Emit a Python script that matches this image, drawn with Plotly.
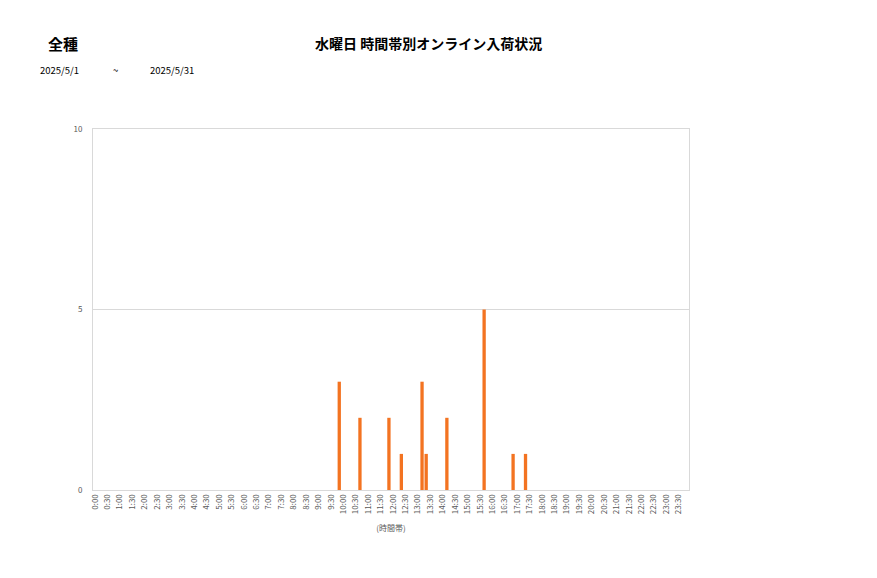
import plotly.graph_objects as go

# 10-minute slots for one day
hours = list(range(24))
minutes = [0, 10, 20, 30, 40, 50]
slots = [f"{h}:{m:02d}" for h in hours for m in minutes]

# arrivals (Wednesday, 2025/5/1 - 2025/5/31)
arrival_times = ["9:50", "10:40", "11:50", "12:20", "13:10", "13:20", "14:10", "15:40", "16:50", "17:20"]
arrival_counts = [3, 2, 2, 1, 3, 1, 2, 5, 1, 1]

# axis labels every 30 minutes
tick_labels = [s for s in slots if s.endswith(":00") or s.endswith(":30")]

font_family = "Noto Sans CJK JP"
grid_color = "#D9D9D9"
text_color = "#595959"

# the page adds an 8px body margin, so pixel positions below are shifted by it
W, H = 877, 578
ML, MR, MT, MB = 85, 196, 121, 96
OFF = 8

fig = go.Figure()
fig.add_trace(go.Bar(
    x=arrival_times,
    y=arrival_counts,
    width=0.8,
    marker=dict(color="#F37321", line=dict(width=0)),
    hoverinfo="x+y",
))

# header texts at page pixel positions
header = [
    ("<b>全種</b>", 63, 43, 15),
    ("<b>水曜日 時間帯別オンライン入荷状況</b>", 428, 43, 14),
    ("2025/5/1", 59, 70, 9.5),
    ("~", 115, 70, 9.5),
    ("2025/5/31", 172, 70, 9.5),
]
annotations = []
for text, px, py, size in header:
    annotations.append(dict(
        text=text,
        xref="paper", yref="paper",
        x=(px - OFF - ML) / (W - ML - MR),
        y=1 - (py - OFF - MT) / (H - MT - MB),
        xanchor="center", yanchor="middle",
        showarrow=False,
        font=dict(size=size, color="#000000"),
    ))

fig.update_layout(
    width=W,
    height=H,
    margin=dict(l=ML, r=MR, t=MT, b=MB),
    paper_bgcolor="white",
    plot_bgcolor="white",
    showlegend=False,
    font=dict(family=font_family, color=text_color, size=8),
    annotations=annotations,
)

fig.update_xaxes(
    type="category",
    categoryorder="array",
    categoryarray=slots,
    range=[-0.5, len(slots) - 0.5],
    tickmode="array",
    tickvals=tick_labels,
    ticktext=tick_labels,
    tickangle=-90,
    tickfont=dict(size=8, color=text_color),
    showgrid=False,
    showline=True,
    linecolor=grid_color,
    linewidth=1,
    mirror=True,
    ticks="",
    title=dict(text="(時間帯)", font=dict(size=8, color=text_color), standoff=12),
)
fig.update_yaxes(
    range=[0, 10],
    tickvals=[0, 5, 10],
    tickfont=dict(size=8, color=text_color),
    showgrid=True,
    gridcolor=grid_color,
    showline=True,
    linecolor=grid_color,
    linewidth=1,
    mirror=True,
    zeroline=False,
    ticks="",
    ticklabelstandoff=8,
)

fig.write_html("out.html")
